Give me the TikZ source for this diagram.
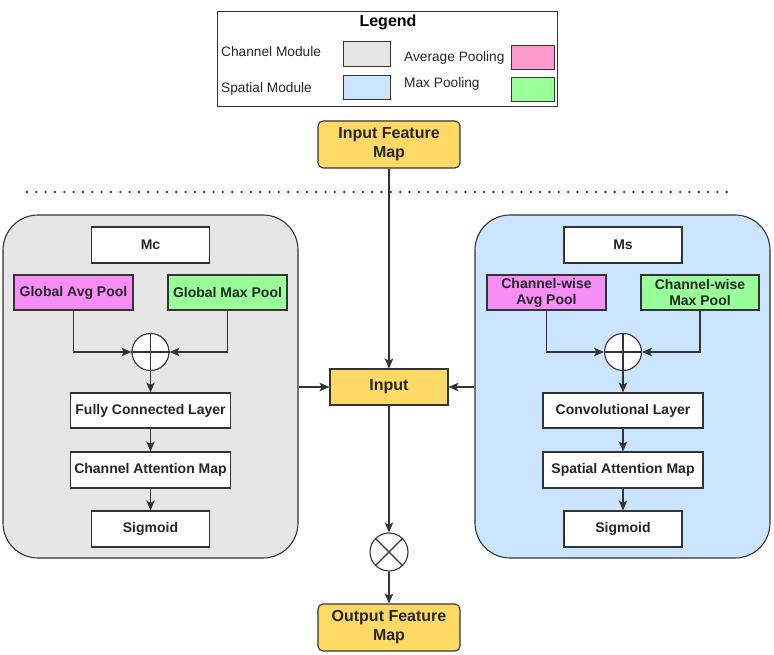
\documentclass[tikz,border=0pt]{standalone}
\usepackage{fontspec}
\setmainfont{Liberation Sans}
\usetikzlibrary{arrows.meta}
\definecolor{gmod}{HTML}{E6E6E6}
\definecolor{bmod}{HTML}{CCE5FF}
\definecolor{pinkl}{HTML}{FF99CC}
\definecolor{magb}{HTML}{F78DF7}
\definecolor{greenl}{HTML}{99FF99}
\definecolor{yel}{HTML}{FFD966}
\definecolor{edge}{HTML}{333333}
\tikzset{
  box/.style={draw=edge, line width=1.1pt, fill=white, inner sep=0pt, align=center,
    font=\fontsize{14}{16}\selectfont\bfseries, text=black!85},
  ybox/.style={box, fill=yel, font=\fontsize{16}{19}\selectfont\bfseries},
  modbox/.style={draw=edge, line width=1.1pt, rounded corners=35pt, inner sep=0pt},
  lgbox/.style={draw=black!80, line width=1pt, inner sep=0pt},
  lgtext/.style={anchor=west, inner sep=0pt, font=\fontsize{13.7}{16}\selectfont, text=black!85},
  opc/.style={circle, draw=edge, line width=1.1pt, fill=white, inner sep=0pt, minimum size=#1},
  arr/.style={draw=edge, line width=1.1pt, -{Stealth[length=10pt,width=8.5pt,inset=2.5pt]}},
  ln/.style={draw=edge, line width=1.1pt}
}
\begin{document}
\begin{tikzpicture}[x=1pt,y=-1pt]
\useasboundingbox (0,0) rectangle (774,655);
% legend
\node[lgbox, minimum width=340pt, minimum height=95pt] (legend) at (387,59.5) {};
\node[inner sep=0pt, font=\fontsize{16}{19}\selectfont\bfseries] (lgtitle) at (388,22) {Legend};
\node[lgtext] (lgcm) at (221,52) {Channel Module};
\node[lgbox, fill=gmod, minimum width=47pt, minimum height=25pt] (lgcmb) at (366.5,54.5) {};
\node[lgtext] (lgsm) at (221,89) {Spatial Module};
\node[lgbox, fill=bmod, minimum width=47pt, minimum height=24pt] (lgsmb) at (366.5,88) {};
\node[lgtext] (lgap) at (404,58) {Average Pooling};
\node[lgbox, fill=pinkl, minimum width=43pt, minimum height=24pt] (lgapb) at (532.5,58) {};
\node[lgtext] (lgmp) at (404,84) {Max Pooling};
\node[lgbox, fill=greenl, minimum width=43pt, minimum height=24pt] (lgmpb) at (532.5,90) {};
% input feature map
\node[ybox, rounded corners=5pt, minimum width=142pt, minimum height=47pt] (ifm) at (389,144.5) {Input Feature\\Map};
% dotted separator
\coordinate (dl) at (27,192);
\coordinate (dr) at (727,192);
\draw[draw=edge, line width=2.6pt, line cap=round, dash pattern=on 0pt off 9.33pt] (dl) -- (dr);
% modules
\node[modbox, fill=gmod, minimum width=295pt, minimum height=343pt] (cmod) at (150.5,386.5) {};
\node[modbox, fill=bmod, minimum width=295pt, minimum height=343pt] (smod) at (622.5,386.5) {};
% channel module
\node[box, minimum width=118pt, minimum height=36pt] (mc) at (150.5,245) {Mc};
\node[box, fill=magb, minimum width=119pt, minimum height=35pt] (gap) at (73.5,292.5) {Global Avg Pool};
\node[box, fill=greenl, minimum width=119pt, minimum height=35pt] (gmp) at (227.5,292.5) {Global Max Pool};
\node[opc=37pt] (cplus) at (150.5,352) {};
\draw[ln] (cplus.north) -- (cplus.south) (cplus.west) -- (cplus.east);
\node[box, minimum width=160pt, minimum height=35pt] (fc) at (150.5,410.5) {Fully Connected Layer};
\node[box, minimum width=160pt, minimum height=36pt] (cam) at (150.5,470) {Channel Attention Map};
\node[box, minimum width=118pt, minimum height=36pt] (csig) at (150.5,529) {Sigmoid};
\draw[arr] (gap.south) |- (cplus.west);
\draw[arr] (gmp.south) |- (cplus.east);
\draw[arr] (cplus.south) -- (fc.north);
\draw[arr] (fc.south) -- (cam.north);
\draw[arr] (cam.south) -- (csig.north);
% spatial module
\node[box, minimum width=118pt, minimum height=36pt] (ms) at (623,245) {Ms};
\node[box, fill=magb, minimum width=119pt, minimum height=35pt] (cap) at (546.5,292.5) {Channel-wise\\Avg Pool};
\node[box, fill=greenl, minimum width=118pt, minimum height=35pt] (cmp) at (700,292.5) {Channel-wise\\Max Pool};
\node[opc=37pt] (splus) at (623,352) {};
\draw[ln] (splus.north) -- (splus.south) (splus.west) -- (splus.east);
\node[box, minimum width=160pt, minimum height=35pt] (conv) at (623,410.5) {Convolutional Layer};
\node[box, minimum width=160pt, minimum height=36pt] (sam) at (623,470) {Spatial Attention Map};
\node[box, minimum width=118pt, minimum height=36pt] (ssig) at (623,529) {Sigmoid};
\draw[arr] (cap.south) |- (splus.west);
\draw[arr] (cmp.south) |- (splus.east);
\draw[arr] (splus.south) -- (conv.north);
\draw[arr] (conv.south) -- (sam.north);
\draw[arr] (sam.south) -- (ssig.north);
% centre
\node[ybox, minimum width=118pt, minimum height=36pt] (input) at (389,387) {Input};
\node[opc=38pt] (mult) at (389,552) {};
\draw[ln] (mult.north west) -- (mult.south east) (mult.north east) -- (mult.south west);
\node[ybox, rounded corners=5pt, minimum width=142pt, minimum height=47pt] (ofm) at (389,627.5) {Output Feature\\Map};
\draw[arr] (ifm.south) -- (input.north);
\draw[arr] (cmod.east |- input.west) -- (input.west);
\draw[arr] (smod.west |- input.east) -- (input.east);
\draw[arr] (input.south) -- (mult.north);
\draw[arr] (mult.south) -- (ofm.north);
\end{tikzpicture}
\end{document}
